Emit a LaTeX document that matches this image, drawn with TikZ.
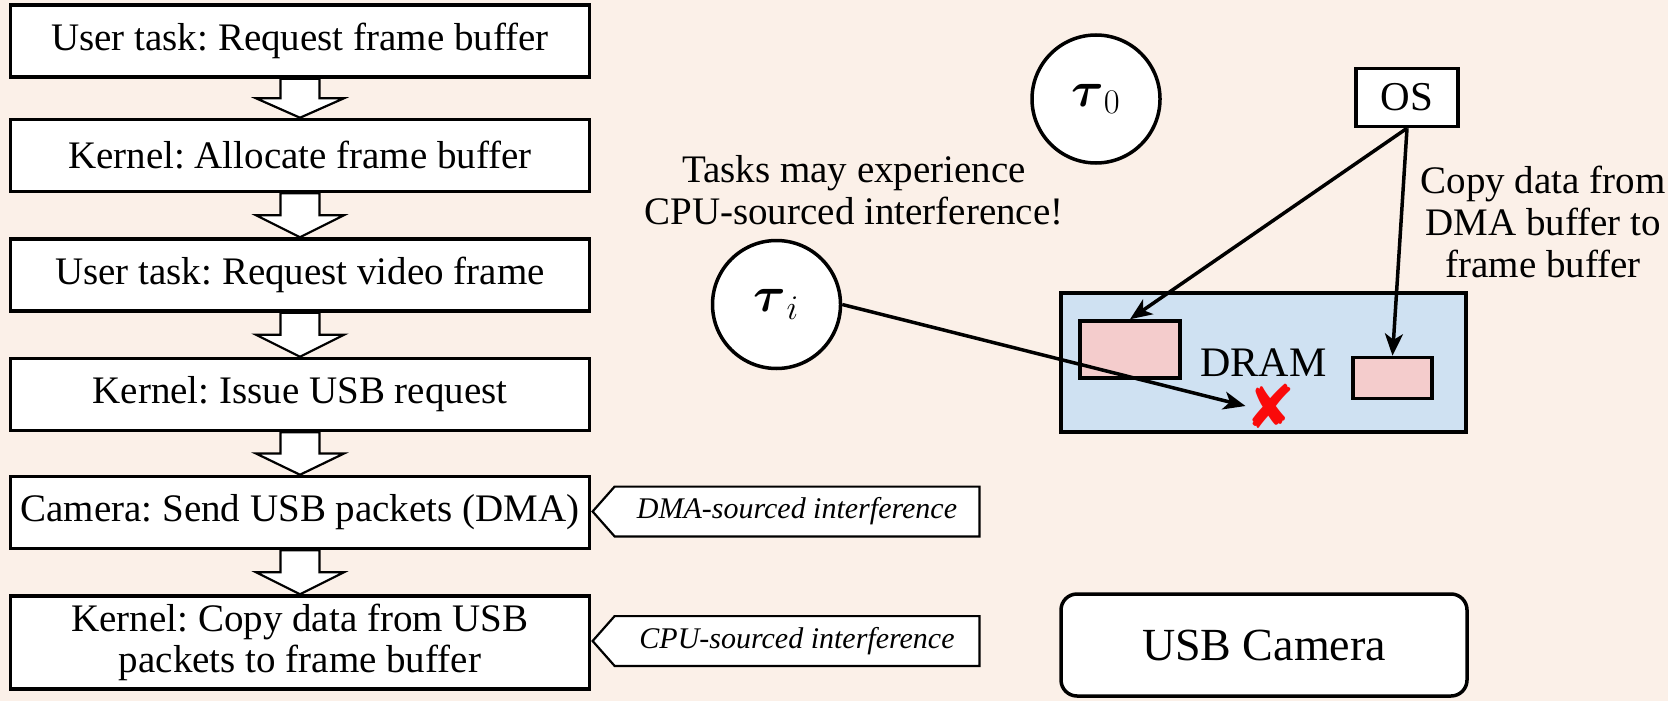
\documentclass[tikz,border=0pt]{standalone}
\usepackage{amsmath}
\usepackage{fontspec}
\setmainfont{Liberation Serif}
\newfontfamily\symfont{DejaVu Sans}
\usetikzlibrary{arrows.meta,calc}
\definecolor{bgc}{RGB}{251,240,232}
\definecolor{dramc}{RGB}{207,225,242}
\definecolor{pinkc}{RGB}{244,204,204}
\definecolor{xred}{RGB}{250,10,10}
\pgfdeclarelayer{bg}
\pgfsetlayers{bg,main}
\frenchspacing
\begin{document}
\frenchspacing
\begin{tikzpicture}[x=0.5pt,y=-0.5pt,
  stepbox/.style={draw, line width=1.75pt, fill=white, minimum width=289.5pt, minimum height=36pt, inner sep=0pt, font=\fontsize{19.5}{20.5}\selectfont, align=center},
  blockarr/.style={draw, line width=1.1pt, fill=white, line join=miter},
  tag/.style={minimum width=182pt, minimum height=24.5pt, inner sep=0pt, font=\fontsize{15}{17}\selectfont\itshape},
  tagshape/.style={draw, line width=1.1pt, fill=white},
  task/.style={circle, draw, line width=1.75pt, fill=white, minimum size=64pt, inner sep=0pt, font=\fontsize{25}{27}\selectfont},
  pinkbox/.style={draw, line width=1.75pt, fill=pinkc, inner sep=0pt},
  conn/.style={line width=1.75pt, -{Stealth[length=11pt, width=9pt, inset=3pt]}},
  plain/.style={align=center, inner sep=0pt, font=\fontsize{19.5}{21}\selectfont}]
\begin{pgfonlayer}{bg}
\fill[bgc] (0,0) rectangle (1668,701);
\end{pgfonlayer}
\useasboundingbox (0,0) rectangle (1668,701);

% left flow
\node[stepbox] (b1) at (300,41) {User task: Request frame buffer};
\node[stepbox] (b2) at (300,155.5) {Kernel: Allocate frame buffer};
\node[stepbox] (b3) at (300,275) {User task: Request video frame};
\node[stepbox] (b4) at (300,394.5) {Kernel: Issue USB request};
\node[stepbox] (b5) at (300,512.5) {Camera: Send USB packets (DMA)};
\node[stepbox, minimum height=46.5pt] (b6) at (300,642.5) {Kernel: Copy data from USB\\packets to frame buffer};

\foreach \a/\b in {b1/b2,b2/b3,b3/b4,b4/b5,b5/b6}{
  \draw[blockarr] let \p1=(\a.south), \p2=(\b.north), \p3=($(\a.south)!0.5!(\b.north)$) in
    (\x1-9.75pt,\y1) -- (\x1+9.75pt,\y1) -- (\x1+9.75pt,\y3) -- (\x1+22pt,\y3) -- (\x2,\y2)
    -- (\x1-22pt,\y3) -- (\x1-9.75pt,\y3) -- cycle;
}

% tags
\node[tag] (t1) at (797,511.5) {DMA-sourced interference};
\node[tag] (t2) at (797,641) {CPU-sourced interference};
\begin{pgfonlayer}{bg}
\foreach \t in {t1,t2}{
  \draw[tagshape] (\t.north west) -- (\t.north east) -- (\t.south east) -- (\t.south west)
    -- ($(\t.west)+(-22,0)$) -- cycle;
}
\end{pgfonlayer}

% right side
\node[task] (t0) at (1096,99) {$\boldsymbol{\tau}_0$};
\node[task] (ti) at (776.5,304.5) {$\boldsymbol{\tau}_i$};
\node[draw, line width=1.75pt, fill=white, minimum width=51pt, minimum height=29pt, inner sep=0pt, font=\fontsize{20.5}{22}\selectfont] (os) at (1407,97.5) {OS};
\node[plain] (tasks) at (854,190) {Tasks may experience\\CPU-sourced interference!};
\node[plain] (copy) at (1543,222) {Copy data from\\DMA buffer to\\frame buffer};

\node[draw, line width=1.75pt, fill=dramc, minimum width=202.5pt, minimum height=69.5pt, inner sep=0pt, font=\fontsize{21}{22}\selectfont] (dram) at (1263.5,362.5) {DRAM};
\node[pinkbox, minimum width=50pt, minimum height=28.5pt] (r1) at (1130,349.5) {};
\node[pinkbox, minimum width=39.5pt, minimum height=20.5pt] (r2) at (1392.5,378) {};
\node[inner sep=0pt, text=xred, font=\symfont\fontsize{30}{30}\selectfont] (xm) at (1271,406) {✘};

\draw[conn] (ti.east) -- (xm.west);
\draw[conn] (os.south) -- (r1.north);
\draw[conn] (os.south) -- (r2.north);

\node[draw, line width=1.75pt, fill=white, rounded corners=8pt, minimum width=203pt, minimum height=51pt, inner sep=0pt, font=\fontsize{23}{25}\selectfont] (cam) at (1264,645) {USB Camera};
\end{tikzpicture}
\end{document}
